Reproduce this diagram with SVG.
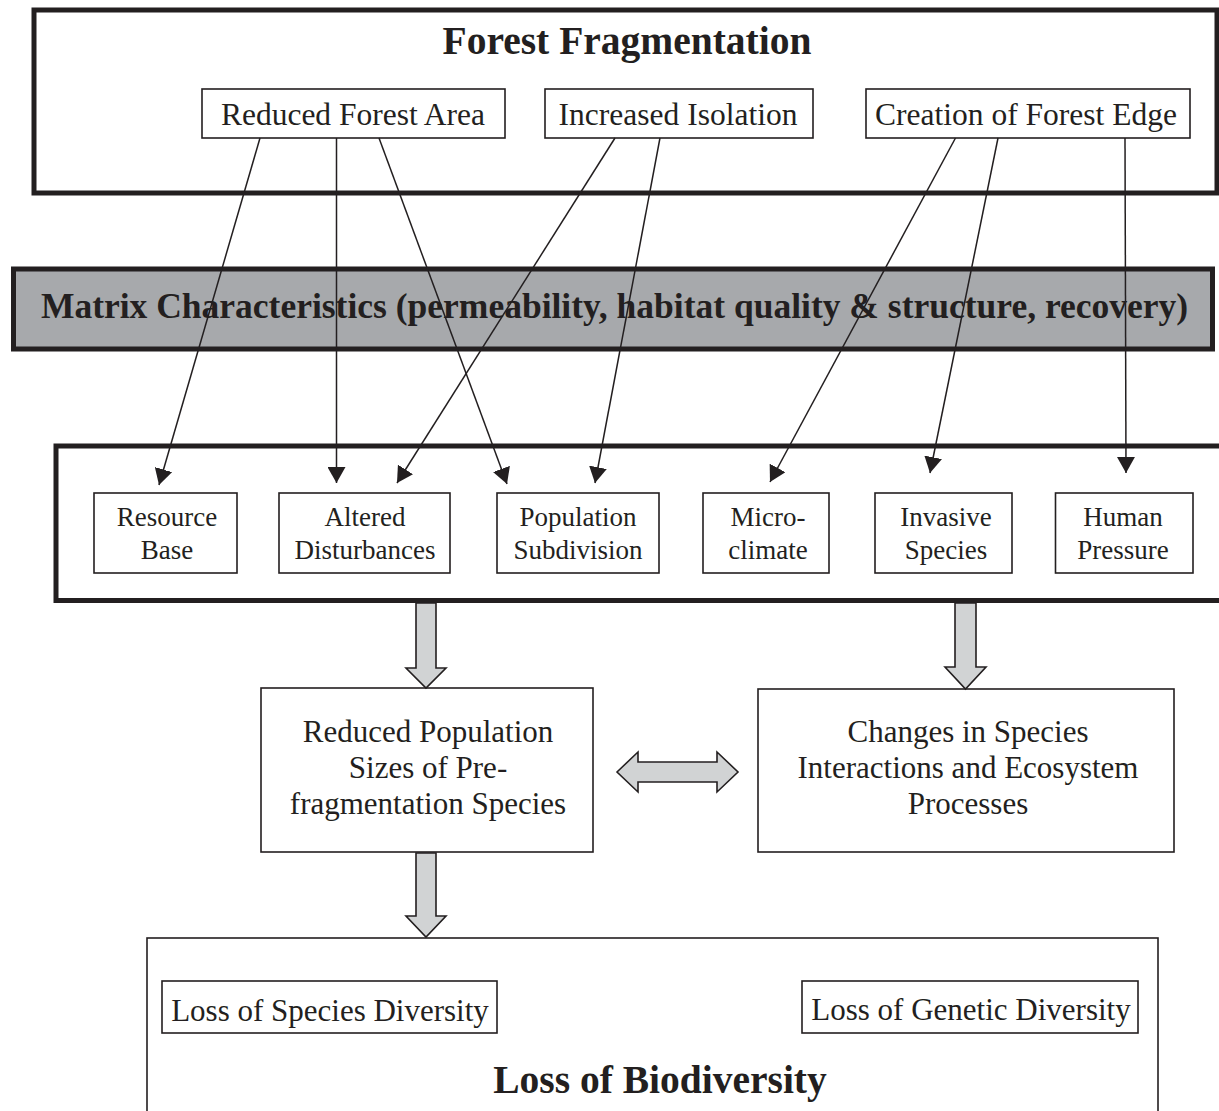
<svg xmlns="http://www.w3.org/2000/svg" width="1219" height="1111" viewBox="0 0 1219 1111">
<defs>
<style>
.frame{fill:#ffffff;stroke:#231f20;stroke-width:5}
.box{fill:#ffffff;stroke:#231f20;stroke-width:1.6}
.bar{fill:#a7a9ac;stroke:#231f20;stroke-width:5}
.blk{fill:#d1d3d4;stroke:#231f20;stroke-width:1.6;stroke-linejoin:miter}
.t{font-family:"Liberation Serif","Times New Roman",serif;fill:#231f20;text-anchor:middle}
.tb{font-family:"Liberation Serif","Times New Roman",serif;fill:#231f20;text-anchor:middle;font-weight:bold}
.l{stroke:#231f20;stroke-width:1.5;fill:none;marker-end:url(#ah)}
</style>
<marker id="ah" viewBox="0 0 16 18" refX="16" refY="9" markerWidth="16" markerHeight="18" markerUnits="userSpaceOnUse" orient="auto">
<path d="M0,0 L16,9 L0,18 z" fill="#231f20"/>
</marker>
</defs>
<rect width="1219" height="1111" fill="#ffffff"/>

<g id="forest-fragmentation">
<rect class="frame" x="34" y="10" width="1183" height="183"/>
<text class="tb" x="627" y="54" font-size="39.5">Forest Fragmentation</text>
</g>
<g id="reduced-forest-area">
<rect class="box" x="202" y="89" width="303" height="49"/>
<text class="t" x="353" y="125" font-size="31.5">Reduced Forest Area</text>
</g>
<g id="increased-isolation">
<rect class="box" x="545" y="89" width="268" height="49"/>
<text class="t" x="678" y="125" font-size="31.5">Increased Isolation</text>
</g>
<g id="creation-of-forest-edge">
<rect class="box" x="866" y="89" width="324" height="49"/>
<text class="t" x="1026" y="125" font-size="31.5">Creation of Forest Edge</text>
</g>

<g id="matrix-characteristics">
<rect class="bar" x="13.5" y="269" width="1199" height="80"/>
<text class="tb" x="614.5" y="318" font-size="35.5">Matrix Characteristics (permeability, habitat quality &amp; structure, recovery)</text>
</g>

<g id="effects">
<rect class="frame" x="56" y="446" width="1180" height="154.5"/>
</g>
<g id="resource-base">
<rect class="box" x="94" y="493" width="143" height="80"/>
<text class="t" font-size="27"><tspan x="167" y="526">Resource</tspan><tspan x="167" y="559">Base</tspan></text>
</g>
<g id="altered-disturbances">
<rect class="box" x="279" y="493" width="171" height="80"/>
<text class="t" font-size="27"><tspan x="365" y="526">Altered</tspan><tspan x="365" y="559">Disturbances</tspan></text>
</g>
<g id="population-subdivision">
<rect class="box" x="497" y="493" width="162" height="80"/>
<text class="t" font-size="27"><tspan x="578" y="526">Population</tspan><tspan x="578" y="559">Subdivision</tspan></text>
</g>
<g id="microclimate">
<rect class="box" x="703" y="493" width="126" height="80"/>
<text class="t" font-size="27"><tspan x="768" y="526">Micro-</tspan><tspan x="768" y="559">climate</tspan></text>
</g>
<g id="invasive-species">
<rect class="box" x="875" y="493" width="137" height="80"/>
<text class="t" font-size="27"><tspan x="946" y="526">Invasive</tspan><tspan x="946" y="559">Species</tspan></text>
</g>
<g id="human-pressure">
<rect class="box" x="1055.5" y="493" width="137.5" height="80"/>
<text class="t" font-size="27"><tspan x="1123" y="526">Human</tspan><tspan x="1123" y="559">Pressure</tspan></text>
</g>

<g id="reduced-population-sizes">
<rect class="box" x="261" y="688" width="332" height="164"/>
<text class="t" font-size="31"><tspan x="428" y="742">Reduced Population</tspan><tspan x="428" y="778">Sizes of Pre-</tspan><tspan x="428" y="814">fragmentation Species</tspan></text>
</g>
<g id="changes-in-species-interactions">
<rect class="box" x="758" y="689" width="416" height="163"/>
<text class="t" font-size="31"><tspan x="968" y="742">Changes in Species</tspan><tspan x="968" y="778">Interactions and Ecosystem</tspan><tspan x="968" y="814">Processes</tspan></text>
</g>

<g id="loss-of-biodiversity">
<rect class="box" x="147" y="938" width="1011" height="200"/>
<text class="tb" x="660" y="1093" font-size="39.5">Loss of Biodiversity</text>
</g>
<g id="loss-of-species-diversity">
<rect class="box" x="162" y="981" width="335" height="52"/>
<text class="t" x="330" y="1021" font-size="31">Loss of Species Diversity</text>
</g>
<g id="loss-of-genetic-diversity">
<rect class="box" x="802" y="981" width="336" height="52"/>
<text class="t" x="971" y="1020" font-size="31">Loss of Genetic Diversity</text>
</g>

<g id="connectors">
<line class="l" x1="260" y1="138" x2="159" y2="485"/>
<line class="l" x1="336.5" y1="138" x2="336.5" y2="483"/>
<line class="l" x1="379" y1="138" x2="507" y2="484"/>
<line class="l" x1="615" y1="138" x2="397" y2="483"/>
<line class="l" x1="660" y1="138" x2="595" y2="483"/>
<line class="l" x1="955.5" y1="138" x2="770" y2="482"/>
<line class="l" x1="998" y1="138" x2="930" y2="473"/>
<line class="l" x1="1125" y1="138" x2="1126" y2="473"/>
<polygon class="blk" points="416,603 436,603 436,668 446,668 426,688 406,668 416,668"/>
<polygon class="blk" points="955,603 976,603 976,667 986,667 965.5,689 945,667 955,667"/>
<polygon class="blk" points="416,853 436,853 436,916 446,916 426,937 406,916 416,916"/>
<polygon class="blk" points="617,772 638,752 638,762 717,762 717,752 738,772 717,792 717,782 638,782 638,792"/>
</g>
</svg>
